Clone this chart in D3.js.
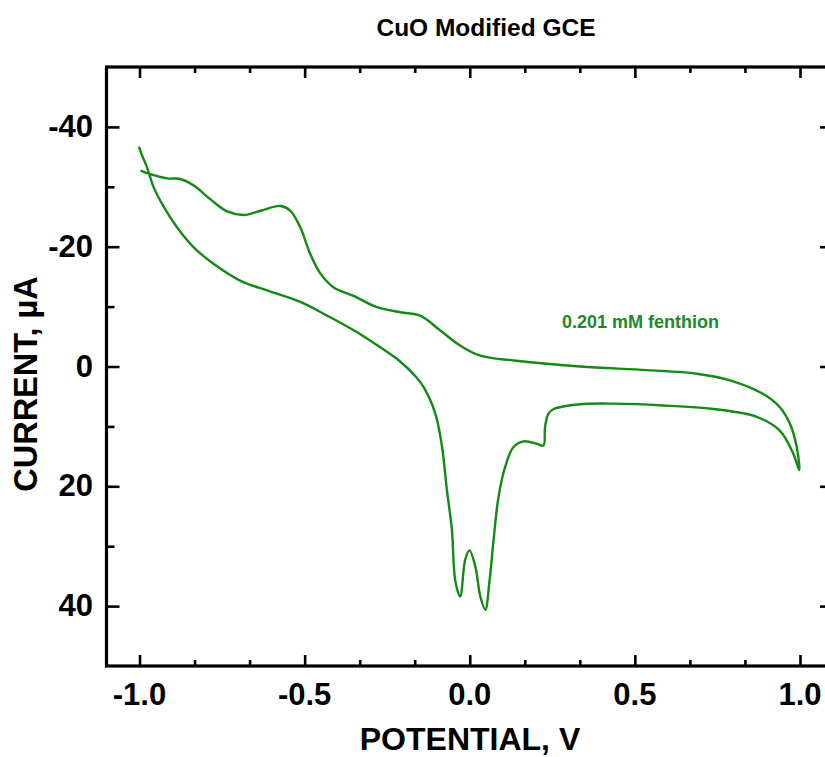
<!DOCTYPE html>
<html>
<head>
<meta charset="utf-8">
<script src="https://cdn.jsdelivr.net/npm/d3@7"></script>
<style>
  html, body { margin: 0; padding: 0; background: #fff; overflow: hidden; }
  text { font-family: "Liberation Sans", Arial, sans-serif; font-weight: bold; }
</style>
</head>
<body>
<svg id="chart" width="825" height="757"></svg>
<script>
// ---- data ----
const potential = [
  -0.997, -0.967, -0.916, -0.876, -0.836, -0.785, -0.735, -0.684, -0.634, -0.573,
  -0.543, -0.513, -0.483, -0.452, -0.412, -0.352, -0.281, -0.210, -0.150, -0.089,
  -0.029, 0.032, 0.133, 0.334, 0.536, 0.687, 0.788, 0.889, 0.939, 0.970,
  0.990, 0.998,
  0.980, 0.939, 0.869, 0.738, 0.586, 0.435, 0.334, 0.254, 0.238, 0.228,
  0.223, 0.203, 0.163, 0.133, 0.107, 0.087, 0.072, 0.060, 0.047, 0.032,
  0.017, -0.001, -0.014, -0.029, -0.044, -0.054, -0.069, -0.084, -0.104, -0.140,
  -0.165, -0.210, -0.271, -0.350, -0.432, -0.513, -0.614, -0.694, -0.775, -0.836,
  -0.886, -0.926, -0.957, -0.977, -0.992, -1.002
];
const current = [
  -32.7, -32.1, -31.4, -31.3, -30.2, -27.9, -25.9, -25.3, -26.0, -26.8,
  -26.0, -23.2, -18.8, -15.5, -13.2, -11.8, -9.9, -9.05, -8.5, -6.0,
  -3.5, -1.8, -1.0, 0.0, 0.6, 1.2, 2.3, 4.6, 6.8, 9.6,
  13.4, 17.3,
  14.6, 10.7, 8.4, 7.1, 6.5, 6.2, 6.3, 7.1, 7.9, 10.1,
  13.2, 12.9, 12.5, 13.4, 16.8, 21.8, 29.0, 35.7, 40.6, 38.4,
  33.4, 30.7, 32.3, 38.4, 35.7, 27.3, 20.7, 13.4, 7.9, 3.4,
  1.6, -0.8, -3.2, -6.0, -8.5, -10.8, -12.7, -14.3, -17.1, -19.9,
  -23.2, -26.6, -29.9, -33.2, -35.2, -36.7
];
const xMajorTicks = [-1.0, -0.5, 0.0, 0.5, 1.0];
const xTickLabels = ["-1.0", "-0.5", "0.0", "0.5", "1.0"];
const xMinorTicks = [-5/6, -4/6, -2/6, -1/6, 1/6, 2/6, 4/6, 5/6];
const yMajorTicks = [-40, -20, 0, 20, 40];
const yTickLabels = ["-40", "-20", "0", "20", "40"];
const yMinorTicks = [-30, -10, 10, 30];
const chartTitle = "CuO Modified GCE";
const xTitle = "POTENTIAL, V";
const yTitle = "CURRENT, \u00b5A";
const seriesLabel = "0.201 mM fenthion";

// ---- layout ----
const plotL = 106.5, plotR = 833, plotT = 67, plotB = 666;
const lineColor = "#138a13";
const svg = d3.select("#chart");

const x = d3.scaleLinear().domain([-1.1, 1.1]).range([plotL, plotR]);
const y = d3.scaleLinear().domain([-50, 50]).range([plotT, plotB]);

const majorLen = 11, minorLen = 6;
const axisStroke = 3.2;

function drawAxis(axisGen, tx, ty, ticks, len) {
  const g = svg.append("g").attr("transform", `translate(${tx},${ty})`)
    .call(axisGen.tickValues(ticks).tickSize(len).tickSizeOuter(0).tickFormat(""));
  g.select(".domain").remove();
  g.selectAll(".tick line").attr("stroke", "#000").attr("stroke-width", 2.6);
  return g;
}
// inward ticks on all four sides
drawAxis(d3.axisTop(x), 0, plotB, xMajorTicks, majorLen);
drawAxis(d3.axisTop(x), 0, plotB, xMinorTicks, minorLen);
drawAxis(d3.axisBottom(x), 0, plotT, xMajorTicks, majorLen);
drawAxis(d3.axisBottom(x), 0, plotT, xMinorTicks, minorLen);
drawAxis(d3.axisRight(y), plotL, 0, yMajorTicks, majorLen + 2);
drawAxis(d3.axisRight(y), plotL, 0, yMinorTicks, minorLen + 2);
drawAxis(d3.axisLeft(y), plotR, 0, yMajorTicks, majorLen + 2);
drawAxis(d3.axisLeft(y), plotR, 0, yMinorTicks, minorLen + 2);

// frame
svg.append("rect")
  .attr("x", plotL).attr("y", plotT)
  .attr("width", plotR - plotL).attr("height", plotB - plotT)
  .attr("fill", "none").attr("stroke", "#000").attr("stroke-width", axisStroke);

// tick labels
svg.append("g").selectAll("text").data(xMajorTicks).join("text")
  .attr("x", d => x(d)).attr("y", 705)
  .attr("text-anchor", "middle").attr("font-size", 31).attr("fill", "#000")
  .text((d, i) => xTickLabels[i]);
svg.append("g").selectAll("text").data(yMajorTicks).join("text")
  .attr("x", 93).attr("y", d => y(d) + 10)
  .attr("text-anchor", "end").attr("font-size", 31).attr("fill", "#000")
  .text((d, i) => yTickLabels[i]);

// curve
const pts = potential.map((p, i) => [p, current[i]]);
svg.append("path")
  .datum(pts)
  .attr("fill", "none")
  .attr("stroke", lineColor)
  .attr("stroke-width", 2.4)
  .attr("stroke-linejoin", "round")
  .attr("d", d3.line().x(d => x(d[0])).y(d => y(d[1])).curve(d3.curveCatmullRom.alpha(0.5)));

// titles
svg.append("text").attr("x", 486).attr("y", 36).attr("text-anchor", "middle")
  .attr("font-size", 24.5).attr("fill", "#000").text(chartTitle);
svg.append("text").attr("x", 470).attr("y", 750).attr("text-anchor", "middle")
  .attr("font-size", 32).attr("fill", "#000").text(xTitle);
svg.append("text").attr("transform", "translate(37,384) rotate(-90)")
  .attr("text-anchor", "middle").attr("font-size", 32.5).attr("fill", "#000").text(yTitle);
svg.append("text").attr("x", 562).attr("y", 328)
  .attr("font-size", 18).attr("fill", "#1b8a2b").text(seriesLabel);
</script>
</body>
</html>
